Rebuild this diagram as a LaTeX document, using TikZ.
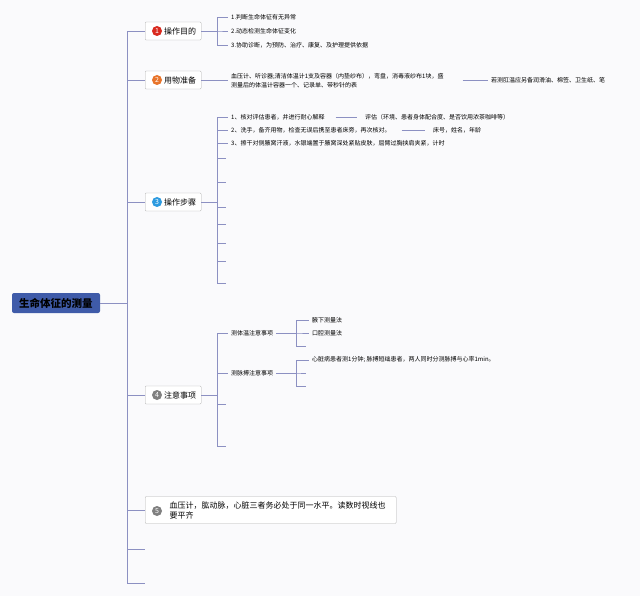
\documentclass[tikz,border=0pt]{standalone}
\usepackage{fontspec}
\setmainfont{Noto Sans CJK SC}
\definecolor{bgc}{HTML}{FAFAFC}
\definecolor{linec}{HTML}{8C90C2}
\definecolor{rootc}{HTML}{3F5BA9}
\definecolor{numa}{HTML}{D92A1F}
\definecolor{numb}{HTML}{E8752B}
\definecolor{numc}{HTML}{2E9BE0}
\definecolor{numd}{HTML}{808080}

\begin{document}
\begin{tikzpicture}[x=1pt,y=-1pt]
 \tikzstyle{topic} = [draw=gray!60,fill=white,rounded corners=1pt,anchor=west,minimum width=56pt,minimum height=18pt,inner xsep=5pt,font=\fontsize{8}{10}\selectfont]
 \tikzstyle{num} = [circle,inner sep=0pt,minimum size=10pt,text=white,font=\fontsize{7}{7}\selectfont]
 \tikzstyle{leaf} = [anchor=west,inner sep=3pt,font=\fontsize{6}{9}\selectfont]
 \tikzstyle{conn} = [draw=linec,line width=0.6pt]
 \newcommand{\gap}{\hspace*{14pt}}

 \fill[bgc] (0,0) rectangle (640,596);

% Root and trunk
 \node[fill=rootc,rounded corners=2pt,minimum width=88pt,minimum height=20pt,font=\fontsize{10.5}{12}\selectfont\bfseries] (root) at (56,303) {生命体征的测量};
 \coordinate (e1) at (145,549);
 \coordinate (e2) at (145,583);

% Topics
 \node[topic] (t1) at (145,31) {\gap 操作目的};
 \node[num,fill=numa] (n1) at (157,31) {1};
 \node[topic] (t2) at (145,80) {\gap 用物准备};
 \node[num,fill=numb] (n2) at (157,80) {2};
 \node[topic] (t3) at (145,202) {\gap 操作步骤};
 \node[num,fill=numc] (n3) at (157,202) {3};
 \node[topic] (t4) at (145,395) {\gap 注意事项};
 \node[num,fill=numd] (n4) at (157,395) {4};
 \node[topic,minimum width=251pt,minimum height=27pt,align=left] (t5) at (145,510) {\gap 血压计，肱动脉，心脏三者务必处于同一水平。读数时视线也\\\gap 要平齐};
 \node[num,fill=numd] (n5) at (157,511) {5};

 \foreach \t in {t1,t2,t3,t4,t5,e1,e2}
  \draw[conn,line width=0.7pt] (root.east) -- ++(27,0) |- (\t.west);

% 1
 \node[leaf] (a1) at (228,17) {1.判断生命体征有无异常};
 \node[leaf] (a2) at (228,31) {2.动态检测生命体征变化};
 \node[leaf] (a3) at (228,45) {3.协助诊断，为预防、治疗、康复、及护理提供依据};
 \foreach \c in {a1,a2,a3}
  \draw[conn] (t1.east) -- ++(16,0) |- (\c.west);

% 2
 \node[leaf,align=left] (w1) at (228,81) {血压计、听诊器;清洁体温计1支及容器（内垫纱布），弯盘，消毒液纱布1块，盛\\测量后的体温计容器一个、记录单、带秒针的表};
 \node[leaf] (w2) at (488,80) {若测肛温应另备润滑油、棉签、卫生纸、笔};
 \draw[conn] (t2.east) -- (t2.east -| w1.west);
 \draw[conn,shorten <=16pt] (w1.east |- w2) -- (w2.west);

% 3
 \node[leaf] (s1) at (228,117) {1、核对评估患者，并进行耐心解释};
 \node[leaf] (s2) at (228,130) {2、洗手，备齐用物，检查无误后携至患者床旁，再次核对。};
 \node[leaf] (s3) at (228,143) {3、擦干对侧腋窝汗液，水银端置于腋窝深处紧贴皮肤，屈臂过胸挟肩夹紧，计时};
 \node[leaf] (s1b) at (362,117) {评估（环境、患者身体配合度、是否饮用浓茶咖啡等）};
 \node[leaf] (s2b) at (430,130) {床号，姓名，年龄};
 \draw[conn,shorten <=8pt,shorten >=5pt] (s1) -- (s1b);
 \draw[conn,shorten <=8pt,shorten >=5pt] (s2) -- (s2b);
 \foreach \c in {s1,s2,s3}
  \draw[conn] (t3.east) -- ++(16,0) |- (\c.west);
 \foreach \y [count=\i] in {158,182,207,224,243,261,283} {
  \coordinate (k\i) at (226,\y);
  \draw[conn] (t3.east) -- ++(16,0) |- (k\i);
 }

% 4
 \node[leaf] (p1) at (228,333) {测体温注意事项};
 \node[leaf] (p2) at (228,373) {测脉搏注意事项};
 \coordinate (p3) at (226,404);
 \coordinate (p4) at (226,446);
 \foreach \c in {p1,p2,p3,p4}
  \draw[conn] (t4.east) -- ++(16,0) |- (\c.west);
 \node[leaf] (q1) at (309,320) {腋下测量法};
 \node[leaf] (q2) at (309,333) {口腔测量法};
 \coordinate (q3) at (306,346);
 \foreach \c in {q1,q2,q3}
  \draw[conn] (p1.east) -- ++(20,0) |- (\c.west);
 \node[leaf] (r1) at (309,360) {心脏病患者测1分钟; 脉搏短绌患者，两人同时分测脉搏与心率1min。};
 \coordinate (r2) at (306,373);
 \coordinate (r3) at (306,386);
 \foreach \c in {r1,r2,r3}
  \draw[conn] (p2.east) -- ++(20,0) |- (\c.west);
\end{tikzpicture}
\end{document}
